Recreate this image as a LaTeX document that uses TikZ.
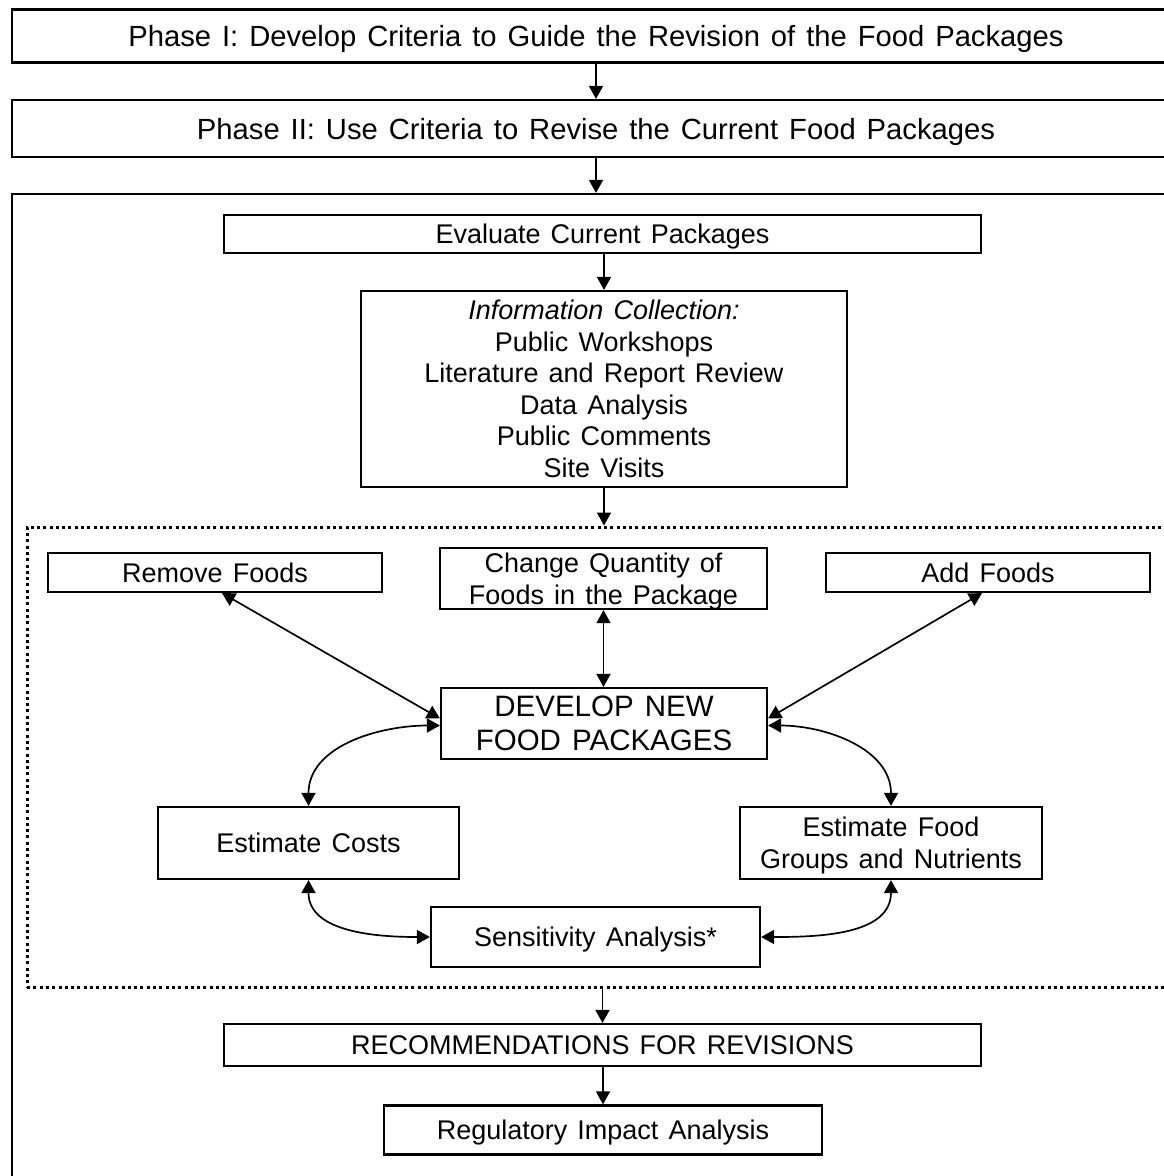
\documentclass[tikz,border=0pt]{standalone}
\usepackage{fontspec}
\setmainfont{Liberation Sans}[WordSpace=1.35]
\usetikzlibrary{arrows.meta,calc}
\begin{document}
\begin{tikzpicture}[x=1pt,y=-1pt,
  mbox/.style={draw,line width=2.2pt,inner sep=0pt,align=center,
    font=\fontsize{27}{31.5}\selectfont},
  box/.style={mbox,text height=19.5pt,text depth=0pt},
  conn/.style={line width=1.7pt,-{Triangle[length=13pt,width=14pt]}},
  biconn/.style={line width=1.7pt,{Triangle[length=13pt,width=14pt]}-{Triangle[length=13pt,width=14pt]}}]
\useasboundingbox (0,0) rectangle (1164,1176);
\clip (0,0) rectangle (1164,1176);
% phase boxes (extend beyond right edge)
\node[box,minimum width=1168pt,minimum height=53pt,text height=21pt,font=\fontsize{29.2}{32}\selectfont] (p1) at (596,36) {Phase I: Develop Criteria to Guide the Revision of the Food Packages};
\node[box,minimum width=1168pt,minimum height=57pt,text height=21pt,font=\fontsize{29.2}{32}\selectfont] (p2) at (596,128.5) {Phase II: Use Criteria to Revise the Current Food Packages};
\node[draw,line width=2.2pt,minimum width=1168pt,minimum height=1000pt,inner sep=0pt] (outer) at (596,694) {};
\node[draw,line width=3pt,dash pattern=on 3pt off 3.3pt,minimum width=1153pt,minimum height=460pt,inner sep=0pt] (dot) at (603.5,757) {};
% inner boxes
\node[box,minimum width=757pt,minimum height=38pt] (eval) at (602.5,234) {Evaluate Current Packages};
\node[mbox,minimum width=486pt,minimum height=196pt] (info) at (604,389) {\itshape Information Collection:\\Public Workshops\\Literature and Report Review\\Data Analysis\\Public Comments\\Site Visits};
\node[box,minimum width=334pt,minimum height=39pt] (remove) at (215,572.5) {Remove Foods};
\node[mbox,minimum width=327pt,minimum height=61pt,text depth=0pt] (change) at (603.5,578.5) {Change Quantity of\\Foods in the Package};
\node[box,minimum width=324pt,minimum height=39pt] (add) at (988,572.5) {Add Foods};
\node[mbox,minimum width=326pt,minimum height=71pt,font=\fontsize{29.5}{34}\selectfont] (dev) at (604,723.5) {DEVELOP NEW\\FOOD PACKAGES};
\node[box,minimum width=301pt,minimum height=72pt] (costs) at (308.5,843) {Estimate Costs};
\node[mbox,minimum width=302pt,minimum height=72pt,text depth=0pt,font=\fontsize{27}{32}\selectfont] (food) at (891,843) {Estimate Food\\Groups and Nutrients};
\node[box,minimum width=329pt,minimum height=60pt] (sens) at (595.5,937) {Sensitivity Analysis*};
\node[box,minimum width=757pt,minimum height=42pt] (recs) at (602.5,1045) {RECOMMENDATIONS FOR REVISIONS};
\node[box,minimum width=438pt,minimum height=49pt] (reg) at (603,1130) {Regulatory Impact Analysis};
% connectors
\draw[conn] (p1.south) -- (p2.north);
\draw[conn] (p2.south) -- (outer.north);
\draw[conn] (eval.south -| info.north) -- (info.north);
\draw[conn] (info.south) -- (info.south |- dot.north);
\draw[biconn] (change.south) -- (change.south |- dev.north);
\draw[biconn] ([xshift=7pt]remove.south) -- ([yshift=5pt]dev.west);
\draw[biconn] ([xshift=-6pt]add.south) -- ([yshift=5pt]dev.east);
\draw[biconn] ([yshift=-2pt]dev.west) to[out=180,in=90] (costs.north);
\draw[biconn] ([yshift=-2pt]dev.east) to[out=0,in=90] (food.north);
\draw[biconn] (costs.south) to[out=-90,in=180] (sens.west);
\draw[biconn] (food.south) to[out=-90,in=0] (sens.east);
\draw[conn] (recs.north |- dot.south) -- (recs.north);
\draw[conn] (recs.south) -- (recs.south -| reg.north) -- (reg.north);
\end{tikzpicture}
\end{document}
